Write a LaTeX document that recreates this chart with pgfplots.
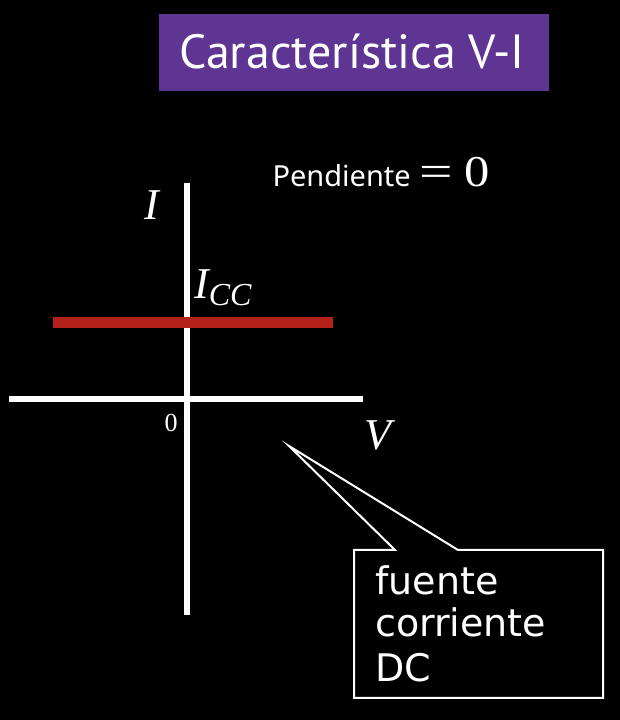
\documentclass[border=0pt]{standalone}
\usepackage{pgfplots}
\pgfplotsset{compat=1.18}
\usepackage{fontspec}
\setmainfont{Liberation Serif}
\newfontfamily\titlefont{PT Sans}
\newfontfamily\pendfont{Noto Sans}
\newfontfamily\callfont{DejaVu Sans}
\definecolor{titlepurple}{RGB}{94,53,146}
\definecolor{redline}{RGB}{178,34,26}
\begin{document}
\begin{tikzpicture}[x=1pt,y=1pt]
\fill[black] (0,0) rectangle (620,720);
\useasboundingbox (0,0) rectangle (620,720);
% title
\fill[titlepurple] (159,629) rectangle (549,706);
\node[text=white, font=\titlefont\fontsize{48}{54}\selectfont, anchor=base] at (352,651) {Característica V-I};
% slope note
\node[text=white, anchor=base east, font=\pendfont\fontsize{29}{32}\selectfont, inner sep=0pt] at (411,533) {Pendiente};
\node[text=white, anchor=base west, font=\fontsize{44}{48}\selectfont, inner sep=0pt] at (419,533) {\scalebox{1.35}[1]{=}\hspace{12pt}\scalebox{1.15}[1]{0}};
% axis
\begin{axis}[at={(9pt,105pt)}, anchor=south west, scale only axis,
  width=354pt, height=432pt,
  xmin=-178, xmax=176, ymin=-216, ymax=216,
  axis lines=middle,
  axis line style={white, line width=6pt, -},
  xtick=\empty, ytick=\empty, clip=false]
\addplot[color=redline, line width=11pt, line cap=butt] coordinates {(-134,76) (146,76)};
\node[text=white, font=\fontsize{44}{48}\selectfont\itshape] at (axis cs:-35,194) {I};
\node[text=white, font=\fontsize{44}{48}\selectfont\itshape, anchor=base west, inner sep=0pt] at (axis cs:7,100) {I\raisebox{-7pt}{\fontsize{32}{36}\selectfont CC}};
\node[text=white, font=\fontsize{44}{48}\selectfont\itshape] at (axis cs:191,-36) {V};
\node[text=white, font=\fontsize{26}{30}\selectfont] at (axis cs:-16,-24) {0};
\end{axis}
% callout
\draw[white, line width=2pt, fill=black, line join=miter]
  (354,170) -- (395,170) -- (289,274) -- (458,170) -- (603,170) -- (603,22) -- (354,22) -- cycle;
\node[text=white, anchor=base west, font=\callfont\fontsize{38}{42}\selectfont, inner sep=0pt] at (375,125) {fuente};
\node[text=white, anchor=base west, font=\callfont\fontsize{38}{42}\selectfont, inner sep=0pt] at (375,83) {corriente};
\node[text=white, anchor=base west, font=\callfont\fontsize{38}{42}\selectfont, inner sep=0pt] at (375,38) {DC};
\end{tikzpicture}
\end{document}
